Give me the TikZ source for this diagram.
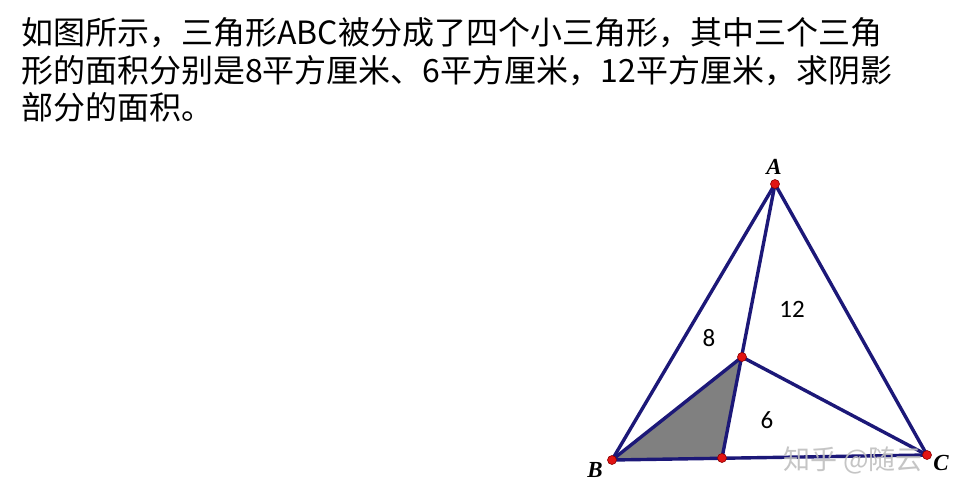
\documentclass[tikz,border=0pt]{standalone}
\usepackage{fontspec}
\setmainfont{Liberation Serif}
\newfontfamily\cjk{Noto Sans CJK SC}
\newfontfamily\numfont{Carlito}
\definecolor{edge}{RGB}{28,24,120}
\definecolor{dotred}{RGB}{225,20,20}
\begin{document}
\begin{tikzpicture}[x=1pt,y=-1pt,
  seg/.style={draw=edge,line width=3.4pt,line cap=round,line join=round},
  vdot/.style={circle,fill=dotred,draw=red!55!black,line width=0.6pt,inner sep=0pt,minimum size=9pt},
  vlab/.style={inner sep=0pt,font=\fontsize{23}{23}\selectfont\bfseries\itshape},
  arealab/.style={inner sep=0pt,font=\numfont\fontsize{25}{25}\selectfont},
  qline/.style={anchor=base west,inner sep=0pt,font=\cjk\fontsize{32}{32}\selectfont}]
\useasboundingbox (0,0) rectangle (961,495);
\fill[white] (0,0) rectangle (961,495);
% question text
\node[qline] (q1) at (21,45) {如图所示，三角形ABC被分成了四个小三角形，其中三个三角};
\node[qline] (q2) at (21,82) {形的面积分别是8平方厘米、6平方厘米，12平方厘米，求阴影};
\node[qline] (q3) at (21,119) {部分的面积。};
% points
\coordinate (A) at (775,184);
\coordinate (B) at (612,460);
\coordinate (C) at (927,455);
\coordinate (O) at (742,357);
\coordinate (D) at (722,458);
% shaded part
\fill[gray] (B)--(O)--(D)--cycle;
\draw[seg] (A)--(B)--(C)--cycle;
\draw[seg] (A)--(D) (B)--(O)--(C);
\foreach \p in {A,B,C,O,D}
  \node[vdot] (dot\p) at (\p) {};
\node[vlab] (labA) at (774,167) {A};
\node[vlab] (labB) at (595,470) {B};
\node[vlab] (labC) at (941,463) {C};
\node[arealab] (s8) at (709,338) {8};
\node[arealab] (s12) at (792,309) {12};
\node[arealab] (s6) at (767,420) {6};
% watermark
\node[inner sep=0pt,text=gray!50,opacity=0.9,font=\cjk\fontsize{27}{27}\selectfont] (wm) at (853,460) {知乎 @随云};
\end{tikzpicture}
\end{document}
